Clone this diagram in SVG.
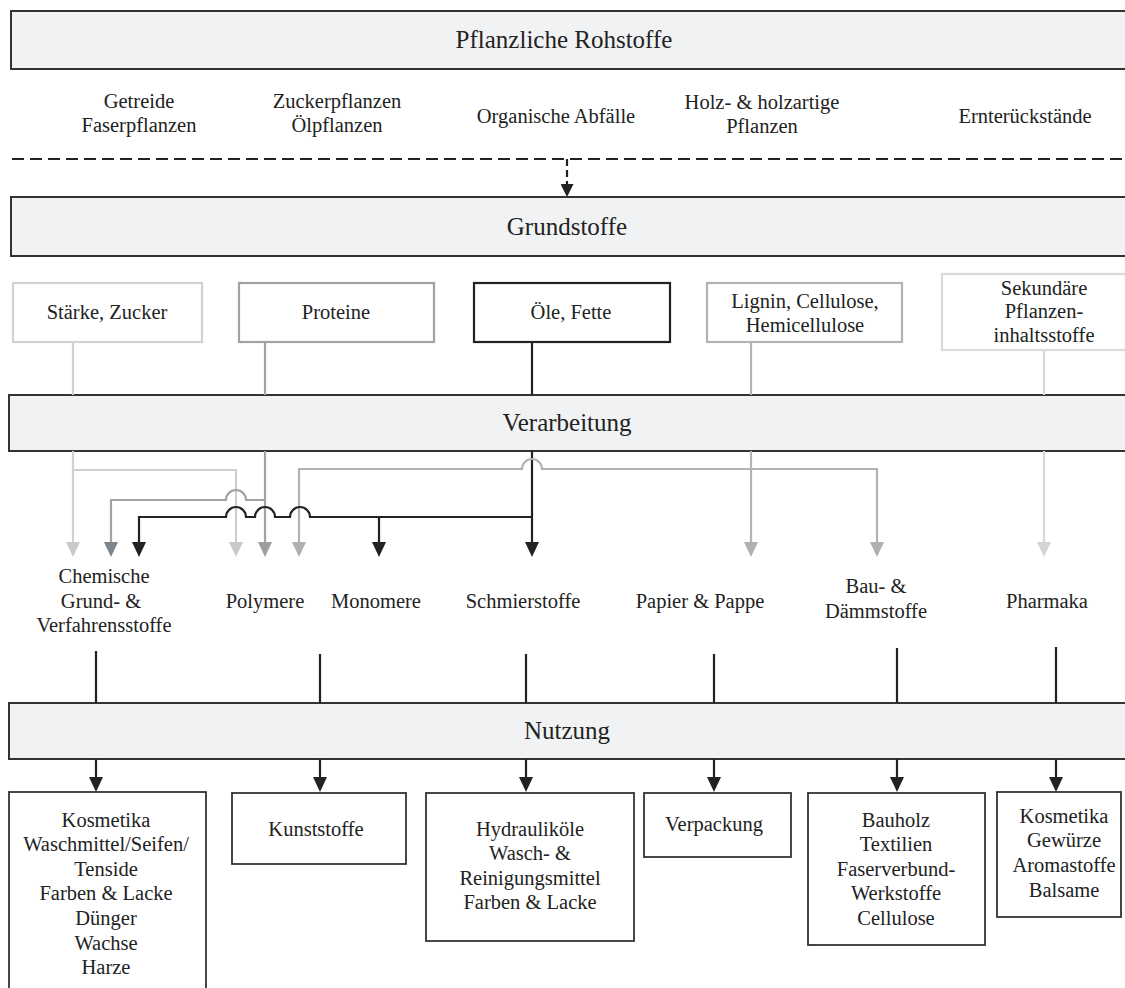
<svg xmlns="http://www.w3.org/2000/svg" width="1125" height="988" viewBox="0 0 1125 988">
<style>
text{fill:#222;text-anchor:middle;font-family:"Liberation Serif","Times New Roman",serif}
.t{font-size:20.5px}
.h{font-size:25px}
.hdr{fill:#f1f2f4;stroke:#333;stroke-width:2}
.box{fill:#fff;stroke:#333;stroke-width:1.8}
.src{fill:#fff;stroke-width:2.2}
.c{fill:none;stroke-width:2.2}
.k{stroke:#222}
.lt{stroke:#d0d0d2}
.md{stroke:#a2a2a4}
.lg{stroke:#b3b3b6}
.sk{stroke:#d8d8d8}
</style>
<defs>
<marker id="aK" markerUnits="userSpaceOnUse" viewBox="0 0 15 14" markerWidth="15" markerHeight="14" refX="0" refY="7" orient="auto"><path d="M0,0 L15,7 L0,14 z" fill="#222"/></marker>
<marker id="aL" markerUnits="userSpaceOnUse" viewBox="0 0 15 14" markerWidth="15" markerHeight="14" refX="0" refY="7" orient="auto"><path d="M0,0 L15,7 L0,14 z" fill="#cacacd"/></marker>
<marker id="aM" markerUnits="userSpaceOnUse" viewBox="0 0 15 14" markerWidth="15" markerHeight="14" refX="0" refY="7" orient="auto"><path d="M0,0 L15,7 L0,14 z" fill="#9e9ea1"/></marker>
<marker id="aS" markerUnits="userSpaceOnUse" viewBox="0 0 15 14" markerWidth="15" markerHeight="14" refX="0" refY="7" orient="auto"><path d="M0,0 L15,7 L0,14 z" fill="#7e868d"/></marker>
<marker id="aG" markerUnits="userSpaceOnUse" viewBox="0 0 15 14" markerWidth="15" markerHeight="14" refX="0" refY="7" orient="auto"><path d="M0,0 L15,7 L0,14 z" fill="#b0b0b4"/></marker>
<marker id="aP" markerUnits="userSpaceOnUse" viewBox="0 0 15 14" markerWidth="15" markerHeight="14" refX="0" refY="7" orient="auto"><path d="M0,0 L15,7 L0,14 z" fill="#d3d3d5"/></marker>
<marker id="aD" markerUnits="userSpaceOnUse" viewBox="0 0 13 13" markerWidth="13" markerHeight="13" refX="0" refY="6.5" orient="auto"><path d="M0,0 L13,6.5 L0,13 z" fill="#222"/></marker>
</defs>
<g id="rohstoffe">
<rect class="hdr" x="11" y="11" width="1125" height="58"/>
<text class="h" x="564" y="48">Pflanzliche Rohstoffe</text>
</g>
<g id="quellen">
<text class="t" x="139" y="108">Getreide</text>
<text class="t" x="139" y="132">Faserpflanzen</text>
<text class="t" x="337" y="108">Zuckerpflanzen</text>
<text class="t" x="337" y="132">Ölpflanzen</text>
<text class="t" x="556" y="123">Organische Abfälle</text>
<text class="t" x="762" y="109">Holz- &amp; holzartige</text>
<text class="t" x="762" y="133">Pflanzen</text>
<text class="t" x="1025" y="123">Ernterückstände</text>
</g>
<g id="grundstoffe">
<rect class="hdr" x="11" y="197" width="1125" height="59"/>
<text class="h" x="567" y="235">Grundstoffe</text>
</g>
<g id="staerke">
<rect class="src" style="stroke:#d2d2d4" x="13" y="283" width="189" height="59"/>
<text class="t" x="107" y="319">Stärke, Zucker</text>
</g>
<g id="proteine">
<rect class="src" style="stroke:#a2a2a4" x="239" y="283" width="195" height="59"/>
<text class="t" x="336" y="319">Proteine</text>
</g>
<g id="oele">
<rect class="src" style="stroke:#222" x="474" y="283" width="196" height="59"/>
<text class="t" x="571" y="319">Öle, Fette</text>
</g>
<g id="lignin">
<rect class="src" style="stroke:#b3b3b6" x="707" y="283" width="195" height="59"/>
<text class="t" x="805" y="308">Lignin, Cellulose,</text>
<text class="t" x="805" y="332">Hemicellulose</text>
</g>
<g id="sekundaer">
<rect class="src" style="stroke:#dadada" x="942" y="274" width="190" height="76"/>
<text class="t" x="1044" y="295">Sekundäre</text>
<text class="t" x="1044" y="318">Pflanzen-</text>
<text class="t" x="1044" y="342">inhaltsstoffe</text>
</g>
<g id="verarbeitung">
<rect class="hdr" x="9" y="395" width="1125" height="56"/>
<text class="h" x="567" y="431">Verarbeitung</text>
</g>
<g id="produkte">
<text class="t" x="104" y="583">Chemische</text>
<text class="t" x="101" y="608">Grund- &amp;</text>
<text class="t" x="104" y="632">Verfahrensstoffe</text>
<text class="t" x="265" y="608">Polymere</text>
<text class="t" x="376" y="608">Monomere</text>
<text class="t" x="523" y="608">Schmierstoffe</text>
<text class="t" x="700" y="608">Papier &amp; Pappe</text>
<text class="t" x="876" y="593">Bau- &amp;</text>
<text class="t" x="876" y="618">Dämmstoffe</text>
<text class="t" x="1047" y="608">Pharmaka</text>
</g>
<g id="nutzung">
<rect class="hdr" x="9" y="703" width="1125" height="56"/>
<text class="h" x="567" y="739">Nutzung</text>
</g>
<g id="n1">
<rect class="box" x="9" y="792" width="197" height="210"/>
<text class="t" x="106" y="827">Kosmetika</text>
<text class="t" x="106" y="851">Waschmittel/Seifen/</text>
<text class="t" x="106" y="876">Tenside</text>
<text class="t" x="106" y="900">Farben &amp; Lacke</text>
<text class="t" x="106" y="925">Dünger</text>
<text class="t" x="106" y="950">Wachse</text>
<text class="t" x="106" y="974">Harze</text>
</g>
<g id="n2">
<rect class="box" x="232" y="793" width="174" height="71"/>
<text class="t" x="316" y="836">Kunststoffe</text>
</g>
<g id="n3">
<rect class="box" x="426" y="793" width="208" height="148"/>
<text class="t" x="530" y="836">Hydrauliköle</text>
<text class="t" x="530" y="860">Wasch- &amp;</text>
<text class="t" x="530" y="885">Reinigungsmittel</text>
<text class="t" x="530" y="909">Farben &amp; Lacke</text>
</g>
<g id="n4">
<rect class="box" x="644" y="793" width="147" height="64"/>
<text class="t" x="714" y="831">Verpackung</text>
</g>
<g id="n5">
<rect class="box" x="808" y="793" width="177" height="152"/>
<text class="t" x="896" y="827">Bauholz</text>
<text class="t" x="896" y="851">Textilien</text>
<text class="t" x="896" y="876">Faserverbund-</text>
<text class="t" x="896" y="900">Werkstoffe</text>
<text class="t" x="896" y="925">Cellulose</text>
</g>
<g id="n6">
<rect class="box" x="997" y="792" width="124" height="125"/>
<text class="t" x="1064" y="823">Kosmetika</text>
<text class="t" x="1064" y="847">Gewürze</text>
<text class="t" x="1064" y="872">Aromastoffe</text>
<text class="t" x="1064" y="897">Balsame</text>
</g>
<g id="connectors">
<path class="c k" d="M12,159 H1125" stroke-width="2.5" stroke-dasharray="12,6"/>
<path class="c k" d="M567,159 V184" stroke-dasharray="7,4" marker-end="url(#aD)"/>

<path class="c lt" d="M73,342 V395"/>
<path class="c md" d="M265,342 V395"/>
<path class="c k" d="M532,342 V395"/>
<path class="c lg" d="M751,342 V395"/>
<path class="c sk" d="M1044,350 V395"/>

<path class="c lt" d="M73,451 V542" marker-end="url(#aL)"/>
<path class="c lt" d="M73,470 H236 V542" marker-end="url(#aL)"/>
<path class="c md" d="M265,451 V542" marker-end="url(#aM)"/>
<path class="c lg" d="M751,451 V542" marker-end="url(#aG)"/>
<path class="c lg" d="M751,469 H877 V542" marker-end="url(#aG)"/>
<path class="c sk" d="M1044,451 V542" marker-end="url(#aP)"/>
<path class="c k" d="M532,451 V542" marker-end="url(#aK)"/>
<path class="c k" d="M379,517 V542" marker-end="url(#aK)"/>
<path class="c md" d="M265,500 H246 A10,10 0 0 0 226,500 H111 V542" marker-end="url(#aS)"/>
<path class="c lg" d="M751,469 H542 A10,10 0 0 0 522,469 H299 V542" marker-end="url(#aG)"/>
<path class="c k" d="M532,517 H310 A10,10 0 0 0 290,517 H275 A10,10 0 0 0 255,517 H246 A10,10 0 0 0 226,517 H139 V542" marker-end="url(#aK)"/>

<path class="c k" d="M96,651 V703"/>
<path class="c k" d="M320,654 V703"/>
<path class="c k" d="M526,654 V703"/>
<path class="c k" d="M714,654 V703"/>
<path class="c k" d="M897,648 V703"/>
<path class="c k" d="M1056,647 V703"/>

<path class="c k" d="M96,759 V777" marker-end="url(#aK)"/>
<path class="c k" d="M320,759 V777" marker-end="url(#aK)"/>
<path class="c k" d="M526,759 V777" marker-end="url(#aK)"/>
<path class="c k" d="M714,759 V777" marker-end="url(#aK)"/>
<path class="c k" d="M897,759 V777" marker-end="url(#aK)"/>
<path class="c k" d="M1056,759 V777" marker-end="url(#aK)"/>
</g>
</svg>
